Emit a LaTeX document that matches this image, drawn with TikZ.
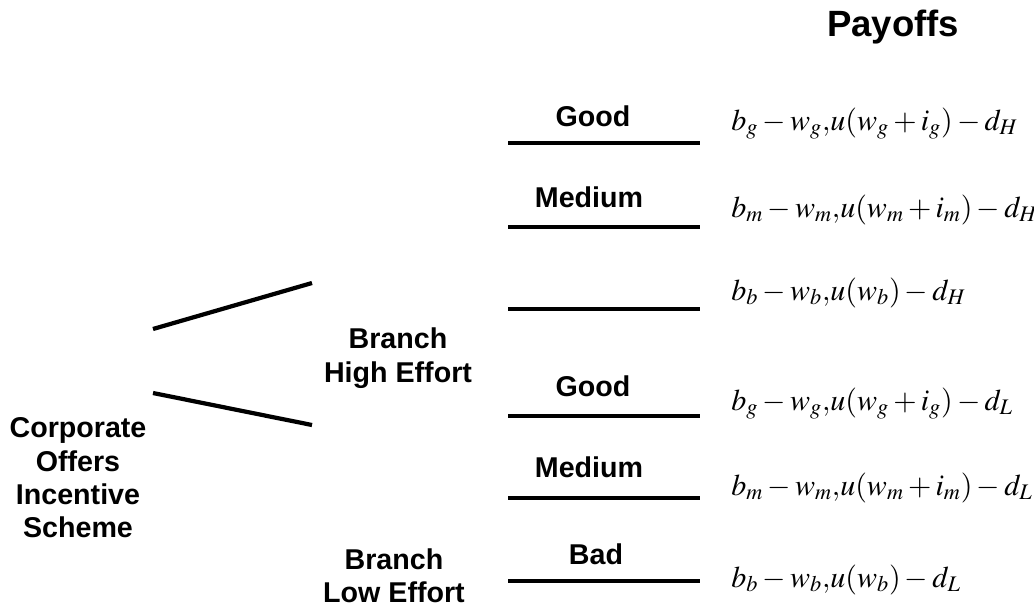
\documentclass[tikz,border=0pt]{standalone}
\usepackage{mathptmx}
\usepackage[no-math]{fontspec}
\setmainfont{Liberation Sans}

\begin{document}
\begin{tikzpicture}[x=0.02cm, y=-0.02cm,
	word/.style={font=\fontsize{16.3}{19}\selectfont\bfseries, align=center, inner sep=0pt},
	payoff/.style={anchor=base west, inner sep=0pt, font=\fontsize{17.1}{20}\selectfont},
	stem/.style={line width=2.4pt}]

		\useasboundingbox (0, 0) rectangle (1034, 609);

		\node [word, anchor=base, font=\fontsize{20.8}{24}\selectfont\bfseries] (title) at (893, 36) {Payoffs};

		\node [word] (corp) at (78, 478) {Corporate\\Offers\\Incentive\\Scheme};
		\node [word] (high) at (398, 358) {Branch\\High Effort};
		\node [word] (low) at (394, 576) {Branch\\Low Effort};

		% branches leaving the first move
		\coordinate (up0) at (153, 329);
		\coordinate (up1) at (312, 283);
		\coordinate (dn0) at (153, 393);
		\coordinate (dn1) at (312, 425);
		\draw [stem] (up0) -- (up1);
		\draw [stem] (dn0) -- (dn1);

		% outcome lines
		\coordinate (hg0) at (508, 143); \coordinate (hg1) at (700, 143);
		\coordinate (hm0) at (508, 227); \coordinate (hm1) at (700, 227);
		\coordinate (hb0) at (508, 309); \coordinate (hb1) at (700, 309);
		\coordinate (lg0) at (508, 416); \coordinate (lg1) at (700, 416);
		\coordinate (lm0) at (508, 498); \coordinate (lm1) at (700, 498);
		\coordinate (lb0) at (508, 581); \coordinate (lb1) at (700, 581);
		\draw [stem] (hg0) -- (hg1);
		\draw [stem] (hm0) -- (hm1);
		\draw [stem] (hb0) -- (hb1);
		\draw [stem] (lg0) -- (lg1);
		\draw [stem] (lm0) -- (lm1);
		\draw [stem] (lb0) -- (lb1);

		\node [word, anchor=base] (hgood) at (593, 126) {Good};
		\node [word, anchor=base] (hmed) at (589, 207) {Medium};
		\node [word, anchor=base] (lgood) at (593, 396) {Good};
		\node [word, anchor=base] (lmed) at (589, 477) {Medium};
		\node [word, anchor=base] (lbad) at (596, 564) {Bad};

		\node [payoff] (p1) at (731, 130) {$b_g - w_g{,}u(w_g + i_g) - d_H$};
		\node [payoff] (p2) at (731, 217) {$b_m - w_m{,}u(w_m + i_m) - d_H$};
		\node [payoff] (p3) at (731, 300) {$b_b - w_b{,}u(w_b) - d_H$};
		\node [payoff] (p4) at (731, 410) {$b_g - w_g{,}u(w_g + i_g) - d_L$};
		\node [payoff] (p5) at (731, 495) {$b_m - w_m{,}u(w_m + i_m) - d_L$};
		\node [payoff] (p6) at (731, 587) {$b_b - w_b{,}u(w_b) - d_L$};

\end{tikzpicture}
\end{document}
